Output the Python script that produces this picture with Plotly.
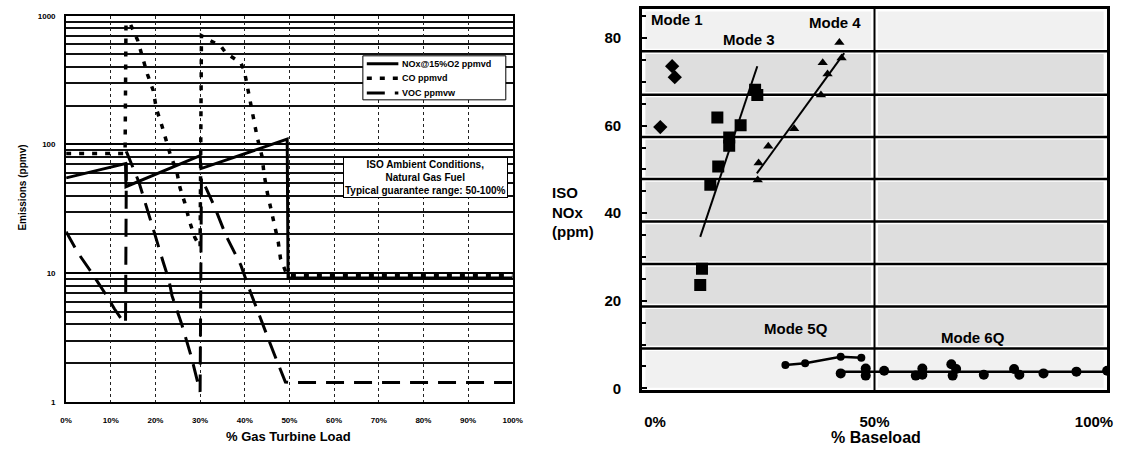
import plotly.graph_objects as go

W, H = 1128, 452

# ---------------- Left chart data (% Gas Turbine Load vs Emissions, ppmv) ----------------
nox_load = [0, 13.3, 13.4, 30.0, 30.2, 49.5, 49.7, 100]
nox_ppm = [55, 71, 47, 82, 65, 110, 9.2, 9.2]

co_load = [0, 13.2, 13.4, 14.2, 16.0, 17.1, 18.2, 19.5, 20.2, 21.5, 22.2, 23.3, 24.8,
           25.5, 26.6, 27.6, 28.8, 30.0, 30.3, 30.7, 34.7, 35.8, 39.1, 39.9, 41.3,
           42.1, 42.8, 43.9, 44.3, 45.0, 45.8, 46.6, 47.5, 48.0, 49.5, 100]
co_ppm = [85, 85, 850, 890, 647, 471, 351, 263, 190, 138, 116, 84, 61,
          46, 35, 25.5, 19, 16, 700, 687, 577, 513, 431, 373, 208,
          151, 113, 80, 59.5, 43, 32, 23.4, 17.5, 13, 9.6, 9.6]

voc_load = [0, 2.7, 5.3, 6.8, 9.3, 10.8, 13.0, 13.3, 13.5, 16.3, 18.5, 19.6, 21.8,
            23.0, 23.7, 25.9, 28.1, 30.0, 30.3, 33.2, 35.8, 37.3, 39.1, 41.3,
            43.9, 46.5, 49.1, 50, 100]
voc_ppm = [21, 14.3, 10.6, 8.9, 6.5, 5.3, 4.1, 4.1, 88, 51, 29.5, 21.5, 12,
           8.9, 6.7, 4.0, 2.2, 1.2, 55, 33, 19.6, 15.6, 11.6, 7.1,
           4.1, 2.4, 1.43, 1.42, 1.42]

series_names = ["NOx@15%O2 ppmvd", "CO ppmvd", "VOC ppmvw"]

left_xticks = [0, 10, 20, 30, 40, 50, 60, 70, 80, 90, 100]
left_xlabels = ["0%", "10%", "20%", "30%", "40%", "50%", "60%", "70%", "80%", "90%", "100%"]
left_yticks = [1, 10, 100, 1000]
left_ylabels = ["1", "10", "100", "1000"]

# ---------------- Right chart data (% Baseload vs ISO NOx, ppm) ----------------
mode1_x = [3.9, 4.5, 1.2]
mode1_y = [73.6, 71.1, 59.7]

mode3_x = [23.3, 22.8, 14.2, 19.5, 16.9, 16.9, 14.4, 12.6, 10.7, 10.3]
mode3_y = [67.0, 68.2, 61.9, 60.1, 57.3, 55.4, 50.7, 46.5, 27.3, 23.6]
mode3_fit_x = [10.3, 23.3]
mode3_fit_y = [34.6, 73.6]

mode4_x = [42.0, 42.5, 38.2, 39.3, 37.8, 31.7, 25.8, 23.6, 23.4]
mode4_y = [79.0, 75.5, 74.4, 71.8, 67.0, 59.3, 55.3, 51.5, 47.6]
mode4_fit_x = [23.2, 43.1]
mode4_fit_y = [49.1, 76.6]

mode5q_x = [29.7, 34.2, 42.3, 47.0]
mode5q_y = [5.3, 5.7, 7.2, 7.0]

mode6q_x = [42.3, 48.0, 48.0, 52.2, 59.4, 60.9, 60.9, 67.5, 67.8, 68.6, 74.9, 81.8, 83.0, 88.5, 96.0, 103.0]
mode6q_y = [3.4, 4.5, 2.9, 4.0, 2.9, 4.5, 3.1, 5.5, 2.9, 4.4, 3.1, 4.4, 3.1, 3.4, 3.8, 4.0]
mode6q_fit_x = [42.3, 103.0]
mode6q_fit_y = [3.8, 3.8]

band_edges = [9.1, 18.7, 28.4, 38.1, 47.8, 57.4, 67.1, 77.0]
right_xticks = [0, 50, 100]
right_xlabels = ["0%", "50%", "100%"]
right_yticks = [0, 20, 40, 60, 80]

mode_labels = ["Mode 1", "Mode 3", "Mode 4", "Mode 5Q", "Mode 6Q"]
mode_label_x = [4.9, 21.5, 41.1, 32.1, 72.4]
mode_label_y = [84.2, 79.6, 83.5, 13.7, 11.5]

# ---------------- Figure ----------------
FONT = "Liberation Sans"
fig = go.Figure()

styles = [dict(color="black", width=3),
          dict(color="black", width=3.5, dash="5px,8px"),
          dict(color="black", width=3, dash="18px,10px")]

for xs, ys, nm, st in zip([nox_load, co_load, voc_load], [nox_ppm, co_ppm, voc_ppm],
                          series_names, styles):
    fig.add_trace(go.Scatter(x=xs, y=ys, mode="lines", name=nm, line=st,
                             xaxis="x", yaxis="y", showlegend=False))

rkw = dict(xaxis="x2", yaxis="y2", showlegend=False)
fig.add_trace(go.Scatter(x=mode3_fit_x, y=mode3_fit_y, mode="lines", line=dict(color="black", width=2), **rkw))
fig.add_trace(go.Scatter(x=mode4_fit_x, y=mode4_fit_y, mode="lines", line=dict(color="black", width=2), **rkw))
fig.add_trace(go.Scatter(x=mode6q_fit_x, y=mode6q_fit_y, mode="lines", line=dict(color="black", width=2.5), **rkw))
fig.add_trace(go.Scatter(x=mode1_x, y=mode1_y, mode="markers",
                         marker=dict(symbol="diamond", size=11, color="black"), **rkw))
fig.add_trace(go.Scatter(x=mode3_x, y=mode3_y, mode="markers",
                         marker=dict(symbol="square", size=12, color="black"), **rkw))
fig.add_trace(go.Scatter(x=mode4_x, y=mode4_y, mode="markers",
                         marker=dict(symbol="triangle-up", size=9, color="black"), **rkw))
fig.add_trace(go.Scatter(x=mode5q_x, y=mode5q_y, mode="lines+markers",
                         line=dict(color="black", width=2.5),
                         marker=dict(symbol="circle", size=8, color="black"), **rkw))
fig.add_trace(go.Scatter(x=mode6q_x, y=mode6q_y, mode="markers",
                         marker=dict(symbol="circle", size=10, color="black"), **rkw))

shapes = []
# stippled cells (approximated with flat grey)
rows = [-0.45] + band_edges + [86.7]
cols = [(-3, 50), (50, 103)]
for i in range(len(rows) - 1):
    y0, y1 = rows[i], rows[i + 1]
    light = (i == 0 or i == len(rows) - 2)
    for c0, c1 in cols:
        shapes.append(dict(type="rect", xref="x2", yref="y2", x0=c0 + 0.8, x1=c1 - 0.8,
                           y0=y0 + 0.6, y1=y1 - 0.6, line=dict(width=0),
                           fillcolor="#f1f1f1" if light else "#dedede", layer="below"))
for e in band_edges:
    shapes.append(dict(type="line", xref="x2", yref="y2", x0=-3, x1=103, y0=e, y1=e,
                       line=dict(color="black", width=2.5), layer="below"))
shapes.append(dict(type="line", xref="x2", yref="y2", x0=50, x1=50, y0=-0.45, y1=86.7,
                   line=dict(color="black", width=2), layer="below"))

# legend box (left chart), drawn in pixel positions of the page
def px(x):
    return x / W

def py(y):
    return 1 - y / H

shapes.append(dict(type="rect", xref="paper", yref="paper", x0=px(362), x1=px(507),
                   y0=py(98), y1=py(53), line=dict(color="black", width=1),
                   fillcolor="white", layer="above"))
leg_rows = [61, 76, 91]
for ry, st in zip(leg_rows, styles):
    shapes.append(dict(type="line", xref="paper", yref="paper", x0=px(366), x1=px(398),
                       y0=py(ry), y1=py(ry), line=st, layer="above"))

bold = dict(family=FONT, color="black", weight="bold")

annotations = [
    dict(text="Emissions (ppmv)", xref="paper", yref="paper", x=px(17), y=py(188),
         xanchor="center", yanchor="middle",
         textangle=-90, showarrow=False, font=dict(size=10, **bold)),
    dict(text="% Gas Turbine Load", xref="paper", yref="paper", x=px(287), y=py(442),
         xanchor="center", yanchor="middle", showarrow=False, font=dict(size=13, **bold)),
    dict(text="ISO Ambient Conditions,<br>Natural Gas Fuel<br>Typical guarantee range: 50-100%",
         xref="paper", yref="paper", x=px(426), y=py(177), xanchor="center", yanchor="middle",
         showarrow=False, font=dict(size=10, **bold), bordercolor="black", borderwidth=1,
         borderpad=1, bgcolor="white"),
    dict(text="ISO<br>NOx<br>(ppm)", xref="paper", yref="paper", x=px(552), y=py(213),
         xanchor="left", yanchor="middle", align="left", showarrow=False,
         font=dict(size=15, **bold)),
    dict(text="% Baseload", xref="paper", yref="paper", x=px(883), y=py(443),
         xanchor="center", yanchor="middle", showarrow=False, font=dict(size=16, **bold)),
]
for ry, nm in zip(leg_rows, series_names):
    annotations.append(dict(text=nm, xref="paper", yref="paper", x=px(400), y=py(ry),
                            xanchor="left", yanchor="middle", showarrow=False,
                            font=dict(size=9, **bold)))
for t, mx, my in zip(mode_labels, mode_label_x, mode_label_y):
    annotations.append(dict(text=t, xref="x2", yref="y2", x=mx, y=my, showarrow=False,
                            xanchor="center", yanchor="middle", font=dict(size=15, **bold)))

fig.update_layout(
    width=W, height=H,
    margin=dict(l=0, r=0, t=0, b=0),
    paper_bgcolor="white", plot_bgcolor="white",
    font=dict(family=FONT, color="black"),
    shapes=shapes, annotations=annotations, showlegend=False,
    xaxis=dict(domain=[61 / W, 514 / W], range=[0, 100], tickvals=left_xticks,
               ticktext=left_xlabels, showgrid=True, gridcolor="#222", gridwidth=1,
               griddash="dot", showline=True, mirror=True, linecolor="black", linewidth=2,
               ticks="", zeroline=False, tickfont=dict(size=8, **bold), ticklabelstandoff=9,
               anchor="y"),
    yaxis=dict(domain=[1 - 407 / H, 1 - 12 / H], type="log", range=[0, 3],
               tickvals=left_yticks, ticktext=left_ylabels, showgrid=True,
               gridcolor="black", gridwidth=2, showline=True, mirror=True,
               linecolor="black", linewidth=2, ticks="", zeroline=False,
               minor=dict(showgrid=True, gridcolor="#111", gridwidth=1.7, dtick="D1"),
               tickfont=dict(size=8, **bold), ticklabelstandoff=7, anchor="x"),
    xaxis2=dict(domain=[645 / W, 1117 / W], range=[-3, 103], tickvals=right_xticks,
                ticktext=right_xlabels, showgrid=False, zeroline=False, showline=True,
                mirror=True, linecolor="black", linewidth=2.5, ticks="",
                tickfont=dict(size=15, **bold), ticklabelstandoff=16, anchor="y2"),
    yaxis2=dict(domain=[1 - 395 / H, 1 - 5 / H], range=[-0.45, 86.7], tickvals=right_yticks,
                showgrid=False, zeroline=False, showline=True, mirror=True,
                linecolor="black", linewidth=2.5, ticks="inside", ticklen=5,
                tickcolor="black", tickwidth=1.5,
                minor=dict(ticks="inside", ticklen=4, dtick=5, tickcolor="black"),
                tickfont=dict(size=15, **bold), ticklabelstandoff=15, anchor="x2"),
)

fig.write_html("out.html", config={"displayModeBar": False},
               post_script="document.body.style.margin='0';")
